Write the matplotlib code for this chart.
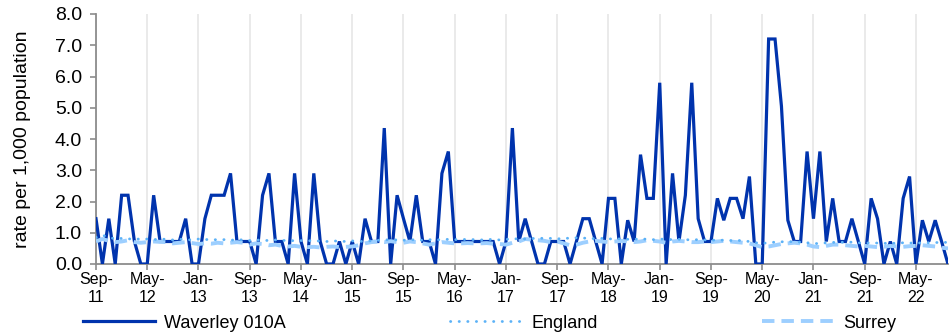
import matplotlib
matplotlib.use("Agg")
import matplotlib.pyplot as plt
import numpy as np

plt.rcParams['font.family'] = ['Liberation Sans', 'DejaVu Sans']

# ---- data -------------------------------------------------------------
tick_labels = ["Sep-\n11", "May-\n12", "Jan-\n13", "Sep-\n13", "May-\n14", "Jan-\n15",
               "Sep-\n15", "May-\n16", "Jan-\n17", "Sep-\n17", "May-\n18", "Jan-\n19",
               "Sep-\n19", "May-\n20", "Jan-\n21", "Sep-\n21", "May-\n22"]
tick_step = 8  # months between labels

waverley = [1.45, 0, 1.45, 0, 2.2, 2.2, 0.72, 0, 0, 2.2, 0.72, 0.72, 0.72, 0.72, 1.45, 0,
            0, 1.45, 2.2, 2.2, 2.2, 2.9, 0.72, 0.72, 0.72, 0, 2.2, 2.9, 0.72, 0.72, 0, 2.9,
            0.72, 0, 2.9, 0.72, 0, 0, 0.72, 0, 0.72, 0, 1.45, 0.72, 0.72, 4.35, 0, 2.2,
            1.45, 0.72, 2.2, 0.72, 0.72, 0, 2.9, 3.6, 0.72, 0.72, 0.72, 0.72, 0.72, 0.72, 0.72, 0,
            0.72, 4.35, 0.72, 1.45, 0.72, 0, 0, 0.72, 0.72, 0.72, 0, 0.72, 1.45, 1.45, 0.72, 0,
            2.1, 2.1, 0, 1.4, 0.72, 3.5, 2.1, 2.1, 5.8, 0, 2.9, 0.72, 2.2, 5.8, 1.45, 0.72,
            0.72, 2.1, 1.4, 2.1, 2.1, 1.45, 2.8, 0, 0, 7.2, 7.2, 5.05, 1.4, 0.72, 0.72, 3.6,
            1.45, 3.6, 0.72, 2.1, 0.72, 0.72, 1.45, 0.72, 0, 2.1, 1.45, 0, 0.72, 0, 2.1, 2.8,
            0, 1.4, 0.72, 1.4, 0.72, 0]

england = [0.85, 0.92, 0.86, 0.80,
           0.82, 0.80, 0.81, 0.79, 0.80, 0.78, 0.80, 0.79, 0.77, 0.80, 0.78, 0.77,
           0.80, 0.78, 0.79, 0.77, 0.78, 0.76, 0.78, 0.77, 0.75, 0.77, 0.76, 0.75,
           0.77, 0.75, 0.76, 0.74, 0.75, 0.74, 0.75, 0.73, 0.72, 0.74, 0.73, 0.72,
           0.74, 0.72, 0.73, 0.74, 0.76, 0.77, 0.78, 0.77, 0.76, 0.78, 0.77, 0.76,
           0.78, 0.77, 0.78, 0.79, 0.78, 0.78, 0.79, 0.78, 0.77, 0.78, 0.79, 0.77,
           0.79, 0.80, 0.81, 0.80, 0.82, 0.81, 0.83, 0.82, 0.80, 0.83, 0.82, 0.84,
           0.83, 0.82, 0.81, 0.82, 0.80, 0.81, 0.80, 0.79, 0.80, 0.79, 0.80, 0.78,
           0.80, 0.79, 0.78, 0.79, 0.78, 0.77, 0.78, 0.77, 0.76, 0.77, 0.76, 0.75,
           0.76, 0.74, 0.72, 0.68, 0.66, 0.68, 0.70, 0.71, 0.72, 0.71, 0.70, 0.68,
           0.66, 0.65, 0.68, 0.69, 0.70, 0.69, 0.70, 0.68, 0.67, 0.68, 0.67, 0.66,
           0.67, 0.66, 0.68, 0.67, 0.68, 0.67, 0.68, 0.69, 0.68, 0.70]

surrey = [0.72, 0.80, 0.74, 0.70,
          0.72, 0.76, 0.70, 0.68, 0.70, 0.72, 0.71, 0.70, 0.66, 0.68, 0.70, 0.67,
          0.64, 0.66, 0.65, 0.68, 0.66, 0.68, 0.70, 0.68, 0.62, 0.66, 0.64, 0.60,
          0.62, 0.58, 0.56, 0.58, 0.55, 0.54, 0.55, 0.53, 0.55, 0.56, 0.54, 0.55,
          0.56, 0.60, 0.66, 0.70, 0.72, 0.70, 0.73, 0.70, 0.68, 0.72, 0.70, 0.66,
          0.62, 0.66, 0.70, 0.68, 0.66, 0.66, 0.67, 0.66, 0.66, 0.67, 0.65, 0.64,
          0.62, 0.68, 0.72, 0.80, 0.78, 0.76, 0.74, 0.70, 0.72, 0.66, 0.60, 0.62,
          0.68, 0.72, 0.74, 0.72, 0.70, 0.72, 0.74, 0.72, 0.70, 0.72, 0.76, 0.74,
          0.72, 0.68, 0.72, 0.74, 0.72, 0.70, 0.70, 0.72, 0.70, 0.72, 0.74, 0.72,
          0.70, 0.68, 0.66, 0.60, 0.54, 0.56, 0.60, 0.64, 0.66, 0.68, 0.66, 0.62,
          0.56, 0.54, 0.58, 0.62, 0.62, 0.60, 0.58, 0.56, 0.58, 0.56, 0.54, 0.55,
          0.58, 0.56, 0.55, 0.57, 0.58, 0.60, 0.58, 0.56, 0.52, 0.50]

series_names = ["Waverley 010A", "England", "Surrey"]

# ---- plot -------------------------------------------------------------
x = np.arange(len(waverley))

fig = plt.figure(figsize=(9.5, 3.36), dpi=100)
ax = fig.add_axes([96 / 950, 72 / 336, 852 / 950, 250 / 336])

l1, = ax.plot(x, waverley, color="#0033AD", lw=2.3, solid_joinstyle="miter", zorder=3)
l3, = ax.plot(x, surrey, color="#9DCFFF", lw=2.8, linestyle=(0, (3.2, 1.8)), zorder=4)
l2, = ax.plot(x, england, color="#5CB2F7", lw=2.0, linestyle=(0, (0.1, 3.0)),
              dash_capstyle="round", zorder=5)

ax.set_xlim(0, len(waverley) - 1)
ax.set_ylim(0, 8)
ax.set_yticks(np.arange(0, 8.01, 1.0))
ax.set_yticklabels([f"{v:.1f}" for v in np.arange(0, 8.01, 1.0)], fontsize=14)

xt = np.arange(0, len(waverley), tick_step)[:len(tick_labels)]
ax.set_xticks(xt)
ax.set_xticklabels(tick_labels, fontsize=11.5, linespacing=1.2)
ax.xaxis.grid(True, color="#E6E6E6", lw=1.2)
ax.set_axisbelow(True)

for s in ["top", "right"]:
    ax.spines[s].set_visible(False)
for s in ["left", "bottom"]:
    ax.spines[s].set_color("#8C8C8C")
    ax.spines[s].set_linewidth(1.3)
ax.tick_params(axis="both", colors="#8C8C8C", length=4, width=1.2, labelcolor="black")
ax.tick_params(axis="y", pad=6)
ax.tick_params(axis="x", pad=2)

ax.set_ylabel("rate per 1,000 population", fontsize=14, labelpad=17)

fig.legend([l1, l2, l3], series_names, loc="center left",
           bbox_to_anchor=(83 / 950, 13 / 336), ncol=3, frameon=False,
           fontsize=13, handlelength=4.0, handletextpad=0.5, columnspacing=9.1,
           borderpad=0, borderaxespad=0)

fig.savefig("out.png", dpi=100)
